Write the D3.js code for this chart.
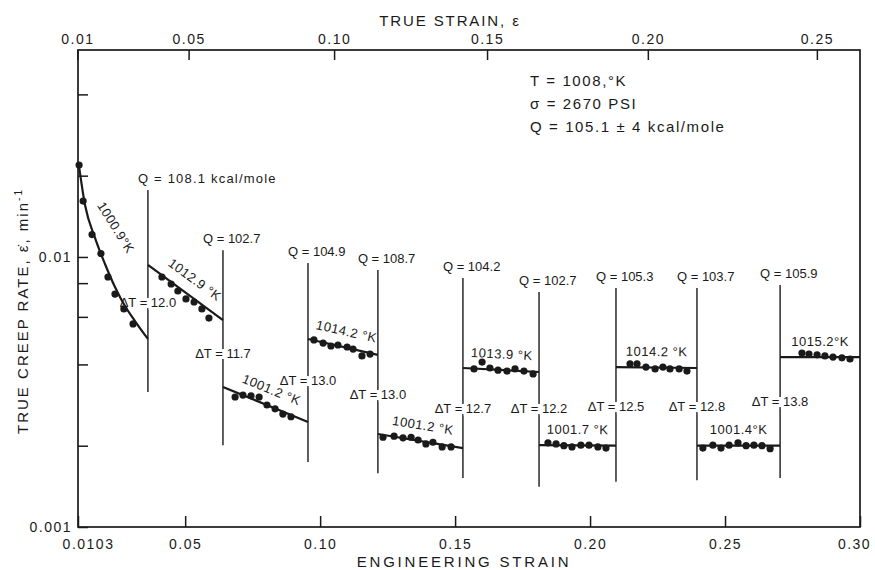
<!DOCTYPE html>
<html>
<head>
<meta charset="utf-8">
<script src="https://cdn.jsdelivr.net/npm/d3@7"></script>
<style>
    body { margin: 0; background: #fff; }
    svg text { font-family: "Liberation Sans", Arial, sans-serif; fill: #1a1a1a; }
</style>
</head>
<body>
<svg id="chart" width="875" height="570"></svg>
<script>

// ---- data ----
const bottomTicks = [0.0103, 0.05, 0.10, 0.15, 0.20, 0.25, 0.30];      // engineering strain
const topTicks = [0.01, 0.05, 0.10, 0.15, 0.20, 0.25];                  // true strain
const leftTicks = [0.001, 0.002, 0.004, 0.006, 0.008, 0.01, 0.02, 0.04];
const leftLabelled = [0.001, 0.01];

// temperature change positions (engineering strain) and extent of the marker lines
const boundaries = [0.0362, 0.0640, 0.0955, 0.1214, 0.1529, 0.1811, 0.2096, 0.2396, 0.2704];
const lineTop = [0.0177, 0.0106, 0.0095, 0.00895, 0.00836, 0.00742, 0.00768, 0.00768, 0.00788];
const lineBottom = [0.00316, 0.00201, 0.00174, 0.00158, 0.00152, 0.00141, 0.00147, 0.00149, 0.00152];
const qLabels = ["Q = 108.1 kcal/mole", "Q = 102.7", "Q = 104.9", "Q = 108.7", "Q = 104.2",
    "Q = 102.7", "Q = 105.3", "Q = 103.7", "Q = 105.9"];
const dtLabels = ["ΔT = 12.0", "ΔT = 11.7", "ΔT = 13.0", "ΔT = 13.0", "ΔT = 12.7",
    "ΔT = 12.2", "ΔT = 12.5", "ΔT = 12.8", "ΔT = 13.8"];

const segTemps = ["1000.9°K", "1012.9 °K", "1001.2 °K", "1014.2 °K", "1001.2 °K",
    "1013.9 °K", "1001.7 °K", "1014.2 °K", "1001.4°K", "1015.2°K"];

// first segment: curved fit (strain, rate)
const fitCurve1 = [[0.0105, 0.0223], [0.0129, 0.01558], [0.0166, 0.01176], [0.0203, 0.00942],
    [0.0240, 0.00774], [0.0277, 0.00658], [0.0314, 0.00579], [0.0362, 0.00497]];
// other segments: straight fit, rate at start and end
const fitFrom = [0.00934, 0.00330, 0.00497, 0.00221, 0.00388, 0.00201, 0.00391, 0.00200, 0.00426];
const fitTo = [0.00584, 0.00245, 0.00434, 0.00196, 0.00375, 0.00200, 0.00388, 0.00200, 0.00426];

// measured points per segment
const strain1 = [0.0107, 0.0122, 0.0155, 0.0188, 0.0214, 0.0240, 0.0273, 0.0307];
const rate1 = [0.0219, 0.0161, 0.0121, 0.0103, 0.00843, 0.00729, 0.00642, 0.00565];
const strain2 = [0.0414, 0.0448, 0.0473, 0.0503, 0.0533, 0.0562, 0.0588];
const rate2 = [0.00843, 0.00794, 0.00748, 0.00699, 0.00681, 0.00642, 0.00594];
const strain3 = [0.0685, 0.0714, 0.0744, 0.0774, 0.0803, 0.0833, 0.0862, 0.0892];
const rate3 = [0.00303, 0.00308, 0.00306, 0.00303, 0.00283, 0.00274, 0.00262, 0.00256];
const strain4 = [0.0977, 0.1011, 0.1040, 0.1066, 0.1100, 0.1122, 0.1155, 0.1185];
const rate4 = [0.00493, 0.00480, 0.00468, 0.00472, 0.00464, 0.00456, 0.00430, 0.00437];
const strain5 = [0.1233, 0.1274, 0.1307, 0.1337, 0.1363, 0.1392, 0.1418, 0.1452, 0.1485];
const rate5 = [0.00215, 0.00217, 0.00214, 0.00215, 0.00210, 0.00203, 0.00206, 0.00198, 0.00198];
const strain6 = [0.1570, 0.1600, 0.1629, 0.1659, 0.1692, 0.1722, 0.1755, 0.1789];
const rate6 = [0.00385, 0.00408, 0.00388, 0.00381, 0.00378, 0.00385, 0.00378, 0.00369];
const strain7 = [0.1844, 0.1874, 0.1903, 0.1933, 0.1966, 0.1996, 0.2029, 0.2059];
const rate7 = [0.00205, 0.00203, 0.00200, 0.00198, 0.00201, 0.00201, 0.00198, 0.00196];
const strain8 = [0.2148, 0.2174, 0.2207, 0.2241, 0.2270, 0.2296, 0.2330, 0.2359];
const rate8 = [0.00402, 0.00402, 0.00391, 0.00385, 0.00391, 0.00385, 0.00385, 0.00378];
const strain9 = [0.2418, 0.2455, 0.2485, 0.2515, 0.2548, 0.2578, 0.2607, 0.2637, 0.2667];
const rate9 = [0.00196, 0.00201, 0.00196, 0.00201, 0.00205, 0.00200, 0.00201, 0.00200, 0.00195];
const strain10 = [0.2785, 0.2811, 0.2841, 0.2870, 0.2900, 0.2933, 0.2963];
const rate10 = [0.00441, 0.00437, 0.00434, 0.00430, 0.00426, 0.00423, 0.00419];

const conditions = ["T = 1008,°K", "σ = 2670 PSI", "Q = 105.1 ± 4 kcal/mole"];

// ---- drawing ----
const svg = d3.select("#chart");
const width = 875, height = 570;
const margin = {left: 78, top: 50, right: 15, bottom: 43};
const ink = "#1a1a1a";

const x = d3.scaleLinear()
    .domain([0.0103, 0.30])
    .range([margin.left, width - margin.right]);

const y = d3.scaleLog()
    .domain([0.001, 0.0584])
    .range([height - margin.bottom, margin.top]);

// true strain axis: e = exp(t) - 1
const xTop = d3.scaleLinear()
    .domain(topTicks)
    .range(topTicks.map(t => x(Math.exp(t) - 1)));

svg.append("rect").attr("width", width).attr("height", height).attr("fill", "#fff");

svg.append("rect")
    .attr("x", margin.left).attr("y", margin.top)
    .attr("width", x.range()[1] - x.range()[0])
    .attr("height", y.range()[0] - y.range()[1])
    .attr("fill", "none").attr("stroke", ink).attr("stroke-width", 1.7);

const styleAxis = (g) => {
    g.select(".domain").remove();
    g.selectAll(".tick line").attr("stroke", ink).attr("stroke-width", 1.5);
    g.selectAll(".tick text")
        .attr("fill", ink)
        .style("font-family", '"Liberation Sans", Arial, sans-serif')
        .style("font-size", "14px")
        .style("letter-spacing", "1.5px");
};

svg.append("g")
    .attr("transform", `translate(0,${y.range()[0]})`)
    .call(d3.axisBottom(x).tickValues(bottomTicks).tickSizeInner(-11).tickSizeOuter(0).tickPadding(12)
        .tickFormat(d => d === 0.0103 ? "0.0103" : d3.format(".2f")(d)))
    .call(styleAxis)
    .call(g => g.selectAll(".tick text").filter(d => d === 0.0103).attr("dx", 10))
    .call(g => g.selectAll(".tick text").filter(d => d === 0.30).attr("dx", -6));

svg.append("g")
    .attr("transform", `translate(0,${margin.top})`)
    .call(d3.axisTop(xTop).tickValues(topTicks).tickSizeInner(-10).tickSizeOuter(0).tickPadding(6)
        .tickFormat(d3.format(".2f")))
    .call(styleAxis);

svg.append("g")
    .attr("transform", `translate(${margin.left},0)`)
    .call(d3.axisLeft(y).tickValues(leftTicks).tickSizeInner(-10).tickSizeOuter(0).tickPadding(6)
        .tickFormat(d => leftLabelled.includes(d) ? String(d) : ""))
    .call(styleAxis);

// segments
const allStrain = [strain1, strain2, strain3, strain4, strain5, strain6, strain7, strain8, strain9, strain10];
const allRate = [rate1, rate2, rate3, rate4, rate5, rate6, rate7, rate8, rate9, rate10];
const edges = [x.domain()[0], ...boundaries, x.domain()[1]];
const fits = segTemps.map((t, i) => i === 0 ? fitCurve1
    : [[edges[i], fitFrom[i - 1]], [edges[i + 1], fitTo[i - 1]]]);

// temperature change lines
svg.append("g").selectAll("line")
    .data(boundaries)
    .join("line")
    .attr("x1", d => x(d)).attr("x2", d => x(d))
    .attr("y1", (d, i) => y(lineTop[i]))
    .attr("y2", (d, i) => y(lineBottom[i]))
    .attr("stroke", ink).attr("stroke-width", 1.4);

// delta T labels, centred on the lines, halo breaks the line
svg.append("g").selectAll("text")
    .data(dtLabels)
    .join("text")
    .attr("x", (d, i) => x(boundaries[i]))
    .attr("y", (d, i) => {
        const a = y(fits[i][fits[i].length - 1][1]);
        const b = y(fits[i + 1][0][1]);
        return (a + b) / 2;
    })
    .attr("dy", "0.35em")
    .attr("text-anchor", "middle")
    .style("font-size", "13px")
    .attr("stroke", "#fff").attr("stroke-width", 6).attr("paint-order", "stroke")
    .text(d => d);

// Q labels above the lines
svg.append("g").selectAll("text")
    .data(qLabels)
    .join("text")
    .attr("x", (d, i) => x(boundaries[i]) + (i === 0 ? -10 : -20))
    .attr("y", (d, i) => y(lineTop[i]) - 7)
    .style("font-size", "13px")
    .style("letter-spacing", (d, i) => i === 0 ? "1.2px" : "0px")
    .text(d => d);

// fit lines
const line = d3.line().x(d => x(d[0])).y(d => y(d[1])).curve(d3.curveMonotoneX);
svg.append("g").selectAll("path")
    .data(fits)
    .join("path")
    .attr("d", line)
    .attr("fill", "none").attr("stroke", ink).attr("stroke-width", 2.2);

// points
const points = allStrain.flatMap((s, i) => s.map((v, j) => ({e: v, r: allRate[i][j]})));
svg.append("g").selectAll("circle")
    .data(points)
    .join("circle")
    .attr("cx", d => x(d.e))
    .attr("cy", d => y(d.r))
    .attr("r", 3.6)
    .attr("fill", ink);

// temperature labels along each segment
svg.append("g").selectAll("text")
    .data(segTemps)
    .join("text")
    .attr("transform", (d, i) => {
        const f = fits[i];
        const p = i === 0 ? f[1] : f[0];
        const q = i === 0 ? f[3] : f[f.length - 1];
        const x0 = x(p[0]), y0 = y(p[1]), x1 = x(q[0]), y1 = y(q[1]);
        const ang = Math.atan2(y1 - y0, x1 - x0);
        const off = i === 0 ? 22 : 16;
        const cx = (x0 + x1) / 2 + off * Math.sin(ang);
        const cy = (y0 + y1) / 2 - off * Math.cos(ang);
        const deg = i === 0 ? 58 : ang * 180 / Math.PI;
        return `translate(${cx},${cy}) rotate(${deg})`;
    })
    .attr("text-anchor", "middle")
    .attr("dy", "0.35em")
    .style("font-size", "13px")
    .style("letter-spacing", "0.5px")
    .text(d => d);

// test conditions
svg.append("g").selectAll("text")
    .data(conditions)
    .join("text")
    .attr("x", 530)
    .attr("y", (d, i) => 86 + i * 23)
    .style("font-size", "15px")
    .style("letter-spacing", "1.6px")
    .text(d => d);

// axis titles
svg.append("text")
    .attr("x", 450).attr("y", 26)
    .attr("text-anchor", "middle")
    .style("font-size", "15px").style("letter-spacing", "1.9px")
    .text("TRUE STRAIN, ε");

svg.append("text")
    .attr("x", 464).attr("y", 567)
    .attr("text-anchor", "middle")
    .style("font-size", "15px").style("letter-spacing", "2.8px")
    .text("ENGINEERING STRAIN");

const yTitle = svg.append("text")
    .attr("transform", "translate(28,311) rotate(-90)")
    .attr("text-anchor", "middle")
    .style("font-size", "15px").style("letter-spacing", "2px");
yTitle.append("tspan").text("TRUE CREEP RATE, ε\u0307, min");
yTitle.append("tspan").attr("dy", -6).style("font-size", "10px").text("-1");

</script>
</body>
</html>
